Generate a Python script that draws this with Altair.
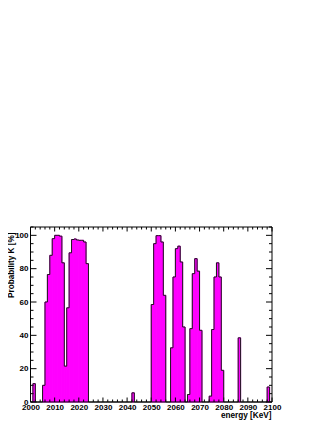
import altair as alt
import pandas as pd

# ---- data (1 KeV bins, left edges 2000..2099) ----
bin_left = list(range(2000, 2100))
prob = [
    0, 11, 0, 0, 0, 10, 60, 76.5, 88, 98,            # 2000-2009
    100, 100, 99.5, 83.5, 21.5, 56.5, 89.5, 97.5, 97.8, 97.2,  # 2010-2019
    97, 97, 96, 83, 0, 0, 0, 0, 0, 0,                 # 2020-2029
    0, 0, 0, 0, 0, 0, 0, 0, 0, 0,                     # 2030-2039
    0, 0, 5.5, 0, 0, 0, 0, 0, 0, 0,                   # 2040-2049
    58.5, 95, 99.8, 99.8, 96, 64, 0, 0, 32.5, 75,     # 2050-2059
    92, 93.5, 84, 45, 0, 4.5, 44, 77, 86, 78.5,       # 2060-2069
    43, 0, 0, 0, 3.5, 43.5, 75, 83.5, 75, 19,         # 2070-2079
    0, 0, 0, 0, 0, 0, 38.5, 0, 0, 0,                  # 2080-2089
    0, 0, 0, 0, 0, 0, 0, 0, 9, 0,                     # 2090-2099
]
bin_width = 1

x_major = list(range(2000, 2101, 10))
x_minor = [v for v in range(2000, 2101, 2) if v % 10]
y_major = list(range(0, 101, 20))
y_minor = [v for v in range(0, 106, 5) if v % 20]

x_domain = [2000, 2100]
y_domain = [0, 105]

# ---- layout ----
W, H = 241.5, 175
FONT = "Liberation Sans"

xs = alt.Scale(domain=x_domain, nice=False, zero=False)
ys = alt.Scale(domain=y_domain, nice=False, zero=False)

xaxis = alt.Axis(
    values=x_major, format="d", title="energy [KeV]",
    labelPadding=1, labelFlush=False, labelOverlap=False,
    titleAlign="right", titleX=240.5, titleY=15.5,
    titleBaseline="alphabetic",
)
yaxis = alt.Axis(
    values=y_major, format="d", title="Probability K [%]",
    labelPadding=2.5, labelFlush=False, labelOverlap=False,
    titleAngle=270, titleAlign="right", titleX=-19.5, titleY=5,
    titleBaseline="middle",
)

bars_df = pd.DataFrame({
    "x": bin_left,
    "x2": [b + bin_width for b in bin_left],
    "y": prob,
    "y0": [0] * len(bin_left),
})
bars_df = bars_df[bars_df["y"] > 0]

# histogram contour (step-after through the bin left edges, closed at 2100)
step_df = pd.DataFrame({
    "x": bin_left + [bin_left[-1] + bin_width],
    "y": prob + [prob[-1]],
    "i": list(range(len(bin_left) + 1)),
})

bars = alt.Chart(bars_df).mark_rect(
    fill="#ff00ff", stroke="#ff00ff", strokeWidth=1
).encode(
    x=alt.X("x:Q", scale=xs, axis=xaxis),
    x2="x2:Q",
    y=alt.Y("y:Q", scale=ys, axis=yaxis),
    y2="y0:Q",
)

step = alt.Chart(step_df).mark_line(
    interpolate="step-after", color="#1a1a1a", strokeWidth=1
).encode(
    x=alt.X("x:Q", scale=xs, axis=xaxis),
    y=alt.Y("y:Q", scale=ys, axis=yaxis),
    order="i:Q",
)


def xticks(vals, length):
    d = pd.DataFrame({"x": vals})
    base = alt.Chart(d).mark_rule(color="black", strokeWidth=1)
    bottom = base.encode(x=alt.X("x:Q", scale=xs, axis=xaxis),
                         y=alt.value(H), y2=alt.value(H - length))
    top = base.encode(x=alt.X("x:Q", scale=xs, axis=xaxis),
                      y=alt.value(0), y2=alt.value(length))
    return [bottom, top]


def yticks(vals, length):
    d = pd.DataFrame({"y": vals})
    base = alt.Chart(d).mark_rule(color="black", strokeWidth=1)
    left = base.encode(y=alt.Y("y:Q", scale=ys, axis=yaxis),
                       x=alt.value(0), x2=alt.value(length))
    right = base.encode(y=alt.Y("y:Q", scale=ys, axis=yaxis),
                        x=alt.value(W), x2=alt.value(W - length))
    return [left, right]


frame = alt.Chart(pd.DataFrame({"a": [0]})).mark_rect(
    fillOpacity=0, stroke="black", strokeWidth=1
).encode(
    x=alt.value(0), x2=alt.value(W), y=alt.value(0), y2=alt.value(H)
)

layers = [bars]
layers += xticks(x_major, 4.5) + xticks(x_minor, 2.5)
layers += yticks(y_major, 6) + yticks(y_minor, 3)
layers += [step, frame]

chart = alt.layer(*layers).properties(
    width=W, height=H,
    autosize=alt.AutoSizeParams(type="none"),
    padding={"left": 22.5, "top": 219, "right": 47, "bottom": 22},
    background="white",
).configure_view(
    stroke=None
).configure_axis(
    domain=False, ticks=False, grid=False, labelOverlap=False, labelFlush=False,
    labelFont=FONT, labelFontSize=8, labelFontWeight="bold", labelColor="black",
    titleFont=FONT, titleFontSize=8.2, titleFontWeight="bold", titleColor="black",
)

chart.save("out.html", embed_options={"renderer": "svg", "actions": False})
